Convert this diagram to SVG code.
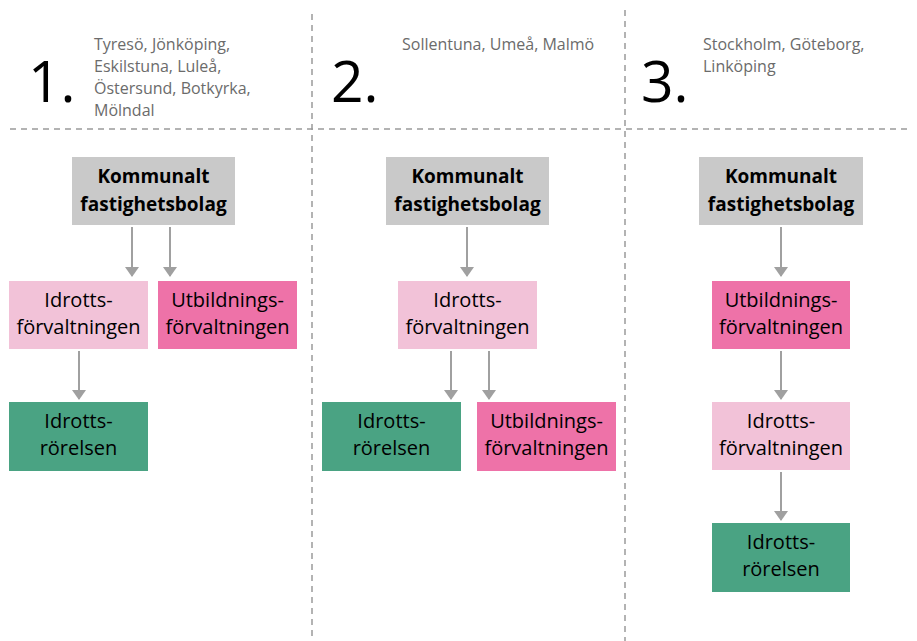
<svg xmlns="http://www.w3.org/2000/svg" width="917" height="641" viewBox="0 0 917 641">
<style>
.num{font-family:"Open Sans",sans-serif;font-size:57px;fill:#000}
.city{font-family:"Open Sans",sans-serif;font-size:16px;fill:#6b6b6b}
.lbl{font-family:"Open Sans",sans-serif;font-size:20px;fill:#000;text-anchor:middle}
.bold{font-family:"Open Sans",sans-serif;font-size:19px;font-weight:bold;fill:#000;text-anchor:middle}
.dash{stroke:#9a9a9a;stroke-width:1.5;stroke-dasharray:6,5;fill:none}
.gray{fill:#c9c9c9}
.lpink{fill:#f2c2d8}
.pink{fill:#ee72a8}
.green{fill:#4aa383}
.conn{stroke:#a0a0a0;stroke-width:2;fill:none;marker-end:url(#ah)}
</style>
<defs>
<marker id="ah" markerWidth="5" markerHeight="7" refX="4.5" refY="3.5" orient="auto" markerUnits="strokeWidth">
<path d="M0,0 L5,3.5 L0,7 Z" fill="#a0a0a0"/>
</marker>
</defs>
<rect width="917" height="641" fill="#fff"/>
<g id="grid">
<line class="dash" x1="312" y1="14" x2="312" y2="641"/>
<line class="dash" x1="625" y1="10" x2="625" y2="641"/>
<line class="dash" x1="10" y1="129" x2="912" y2="129"/>
</g>
<g id="headers">
<text class="num" x="28" y="102">1.</text>
<text class="city" x="94" y="50">Tyresö, Jönköping,</text>
<text class="city" x="94" y="72">Eskilstuna, Luleå,</text>
<text class="city" x="94" y="94">Östersund, Botkyrka,</text>
<text class="city" x="94" y="116">Mölndal</text>
<text class="num" x="331" y="102">2.</text>
<text class="city" x="402" y="50">Sollentuna, Umeå, Malmö</text>
<text class="num" x="641" y="102">3.</text>
<text class="city" x="703" y="50">Stockholm, Göteborg,</text>
<text class="city" x="703" y="72">Linköping</text>
</g>
<g id="connectors">
<line class="conn" x1="132" y1="227" x2="132" y2="276"/>
<line class="conn" x1="170" y1="227" x2="170" y2="276"/>
<line class="conn" x1="79" y1="351" x2="79" y2="399"/>
<line class="conn" x1="467" y1="227" x2="467" y2="276"/>
<line class="conn" x1="451" y1="351" x2="451" y2="399"/>
<line class="conn" x1="489" y1="351" x2="489" y2="399"/>
<line class="conn" x1="781" y1="227" x2="781" y2="276"/>
<line class="conn" x1="781" y1="351" x2="781" y2="399"/>
<line class="conn" x1="781" y1="472" x2="781" y2="520"/>
</g>
<g id="c1-kommunalt">
<rect class="gray" x="72" y="157" width="163" height="68"/>
<text class="bold" x="153.5" y="183">Kommunalt</text>
<text class="bold" x="153.5" y="211">fastighetsbolag</text>
</g>
<g id="c1-idrottsforv">
<rect class="lpink" x="9" y="281" width="139" height="68"/>
<text class="lbl" x="78.5" y="307">Idrotts-</text>
<text class="lbl" x="78.5" y="334">förvaltningen</text>
</g>
<g id="c1-utbildning">
<rect class="pink" x="158" y="281" width="139" height="68"/>
<text class="lbl" x="227.5" y="307">Utbildnings-</text>
<text class="lbl" x="227.5" y="334">förvaltningen</text>
</g>
<g id="c1-rorelsen">
<rect class="green" x="9" y="402" width="139" height="69"/>
<text class="lbl" x="78.5" y="428">Idrotts-</text>
<text class="lbl" x="78.5" y="455">rörelsen</text>
</g>
<g id="c2-kommunalt">
<rect class="gray" x="386" y="157" width="163" height="68"/>
<text class="bold" x="467.5" y="183">Kommunalt</text>
<text class="bold" x="467.5" y="211">fastighetsbolag</text>
</g>
<g id="c2-idrottsforv">
<rect class="lpink" x="398" y="281" width="139" height="68"/>
<text class="lbl" x="467.5" y="307">Idrotts-</text>
<text class="lbl" x="467.5" y="334">förvaltningen</text>
</g>
<g id="c2-rorelsen">
<rect class="green" x="322" y="402" width="139" height="69"/>
<text class="lbl" x="391.5" y="428">Idrotts-</text>
<text class="lbl" x="391.5" y="455">rörelsen</text>
</g>
<g id="c2-utbildning">
<rect class="pink" x="477" y="402" width="139" height="69"/>
<text class="lbl" x="546.5" y="428">Utbildnings-</text>
<text class="lbl" x="546.5" y="455">förvaltningen</text>
</g>
<g id="c3-kommunalt">
<rect class="gray" x="699" y="157" width="164" height="68"/>
<text class="bold" x="781" y="183">Kommunalt</text>
<text class="bold" x="781" y="211">fastighetsbolag</text>
</g>
<g id="c3-utbildning">
<rect class="pink" x="712" y="281" width="138" height="68"/>
<text class="lbl" x="781" y="307">Utbildnings-</text>
<text class="lbl" x="781" y="334">förvaltningen</text>
</g>
<g id="c3-idrottsforv">
<rect class="lpink" x="712" y="402" width="138" height="68"/>
<text class="lbl" x="781" y="428">Idrotts-</text>
<text class="lbl" x="781" y="455">förvaltningen</text>
</g>
<g id="c3-rorelsen">
<rect class="green" x="712" y="523" width="138" height="69"/>
<text class="lbl" x="781" y="549">Idrotts-</text>
<text class="lbl" x="781" y="576">rörelsen</text>
</g>
</svg>
